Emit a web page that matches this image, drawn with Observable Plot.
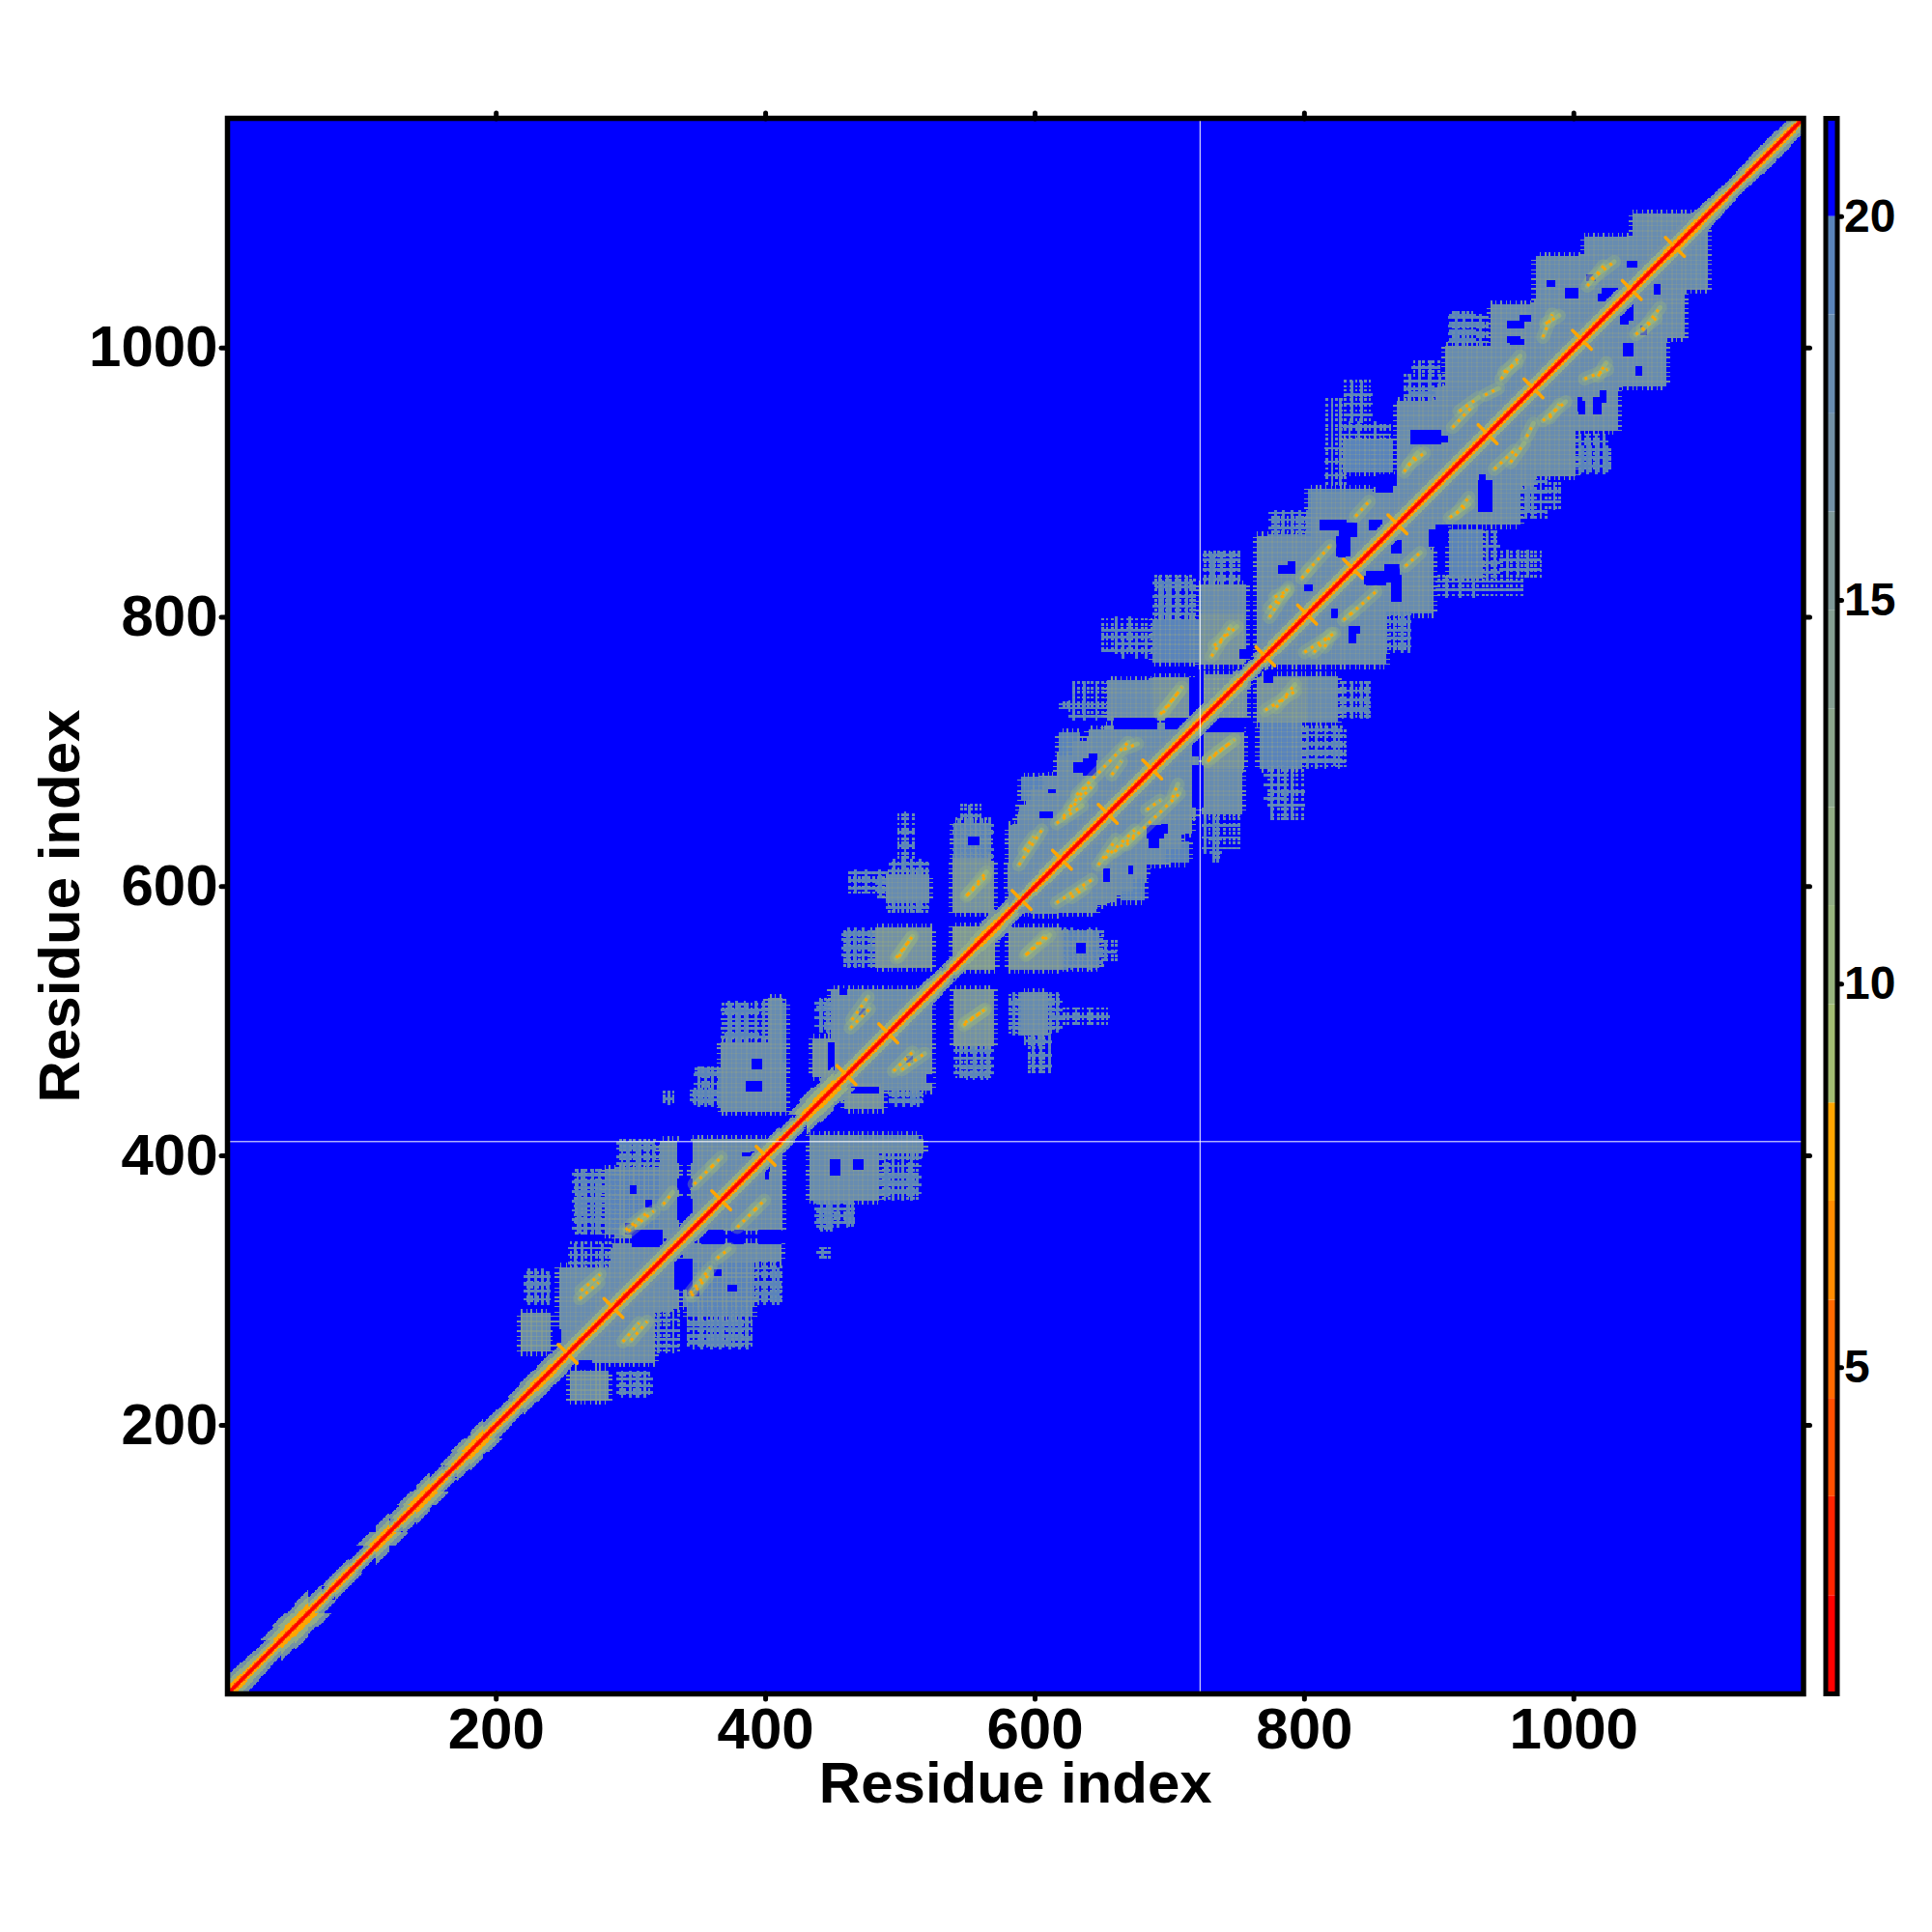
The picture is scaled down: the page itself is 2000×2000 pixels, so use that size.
<!DOCTYPE html>
<html>
<head>
<meta charset="utf-8">
<script src="https://cdn.jsdelivr.net/npm/d3@7"></script>
<script src="https://cdn.jsdelivr.net/npm/@observablehq/plot@0.6"></script>
<style>
html,body{margin:0;padding:0;background:#fff}
#wrap{display:flex;width:2000px;height:2000px}
</style>
</head>
<body>
<div id="wrap"></div>
<script>
// ---- axes and colour key ----
const residueCount = 1170;
const axisTicks = [200, 400, 600, 800, 1000];
const axisLabel = "Residue index";
const keyTicks = [5, 10, 15, 20];
const keyBreaks = [2.03,3.32,4.6,5.88,7.17,8.45,9.73,11.02,12.3,13.58,14.87,16.15,17.43,18.72,20];
const keyColors = ["#ff0000","#ff2400","#ff4f00","#ff6a00","#ff8c00","#ffa500","#a2bd73","#98b57e","#92ad85","#8ba68c","#859f92","#7e9898","#7391a6","#688cb0","#5a84bb","#0000ff"];
const keyEdges = [0.75,...keyBreaks,21.28];
const whiteColumn = [722.5];
const whiteRow = [410.6];

// ---- distance-map regions [x1,x2,y1,y2,value]; the map is symmetric, each is mirrored ----
const denseBlocks = [
[219,240,255,283,17.6],[247,317,250,317,18.4],[285,335,316,330,18.6],[322,335,287,325,18.6],
[339,391,289,330,18.8],[281,317,342,390,19.1],[322,335,340,411,18.6],[345,412,345,412,18.4],
[368,415,433,469,18.4],[403,415,469,513,19.1],[434,517,402,412,18.1],[434,484,367,402,18.6],
[450,523,449,521,18.2],[435,453,459,485,17.1],[459,487,435,457,18.1],[542,569,490,521,17.1],
[590,609,490,521,18.6],[482,523,540,569,17.4],[539,570,539,570,16.1],[581,620,539,567,17.4],
[620,647,540,565,18.8],[492,521,592,608,19.1],[539,569,581,619,17.4],
[654,721,700,714,18.6],[640,721,688,700,18.6],[628,721,676,688,18.4],[611,721,664,676,18.4],
[594,719,652,664,18.4],[587,716,640,652,18.4],[581,708,628,640,18.4],[581,696,617,628,18.4],
[580,682,607,617,18.4],[580,672,597,607,18.4],[582,660,589,597,18.4],[584,645,581,589,18.4],
[590,606,664,681,19.1],[618,633,693,714,19.1],
[654,721,724,753,18.4],[688,721,767,798,19.1],[724,757,726,755,16.6],[724,756,767,824,18.4],
[724,755,688,714,17.4],[724,752,655,688,19.1],[765,802,722,755,17.4],[802,824,722,755,19.1],
[769,798,688,717,19.1],
[769,860,765,858,18.6],[805,905,858,893,18.4],[829,865,908,932,19.1],[869,970,898,960,18.6],
[905,1020,960,1001,18.6],[939,1050,1001,1032,18.6],[972,1075,1032,1068,18.4],[1008,1085,1068,1082,18.4],
[1044,1090,1082,1099,18.1],[860,895,803,850,19.1],[908,931,829,850,19.1]
];

// ---- sparse regions: [x1,x2,y1,y2], then the rows and columns seen as stripes ----
const sparseBoxes = [
[221,238,290,316,[293,299,304,310],[224,229,234]],
[290,314,221,240,[224,229,234,238],[293,299,305,310]],
[257,281,342,390,[346,352,359,366,373,380,386],[260,265,271,276]],
[290,317,390,411,[394,399,405,409],[293,298,304,312]],
[343,372,258,290,[262,266,274,281,287],[346,351,356,362,368]],
[372,388,258,290,[263,283],[376,381,385]],
[391,410,293,333,[297,306,316,323,330],[394,399,406]],
[254,285,316,335,[320,326,331],[258,263,270,278]],
[344,367,438,450,[441,445,448],[347,352,358,364]],
[348,369,459,466,[461,464],[352,360]],
[324,332,438,447,[442],[328]],
[484,515,367,402,[372,378,384,392,398],[488,494,501,508]],
[437,465,347,367,[350,355,360,365],[441,447,453,460]],
[438,446,325,331,[328],[442]],
[492,515,437,454,[440,445,450],[496,502,508,513]],
[438,453,492,516,[496,502,510],[441,446,450]],
[370,395,470,513,[474,482,490,498,506],[374,380,386,392]],
[545,566,457,490,[460,465,472,478,484],[549,554,560,564]],
[581,590,490,521,[498,505,512],[584,588]],
[595,612,462,490,[466,474,484],[598,604,610]],
[613,655,498,510,[503],[630,640]],
[458,482,540,569,[544,549,555,560,565],[461,466,472,478]],
[647,660,545,560,[551],[652]],
[492,521,608,620,[611,616],[495,501,508,514]],
[492,521,581,592,[584,589],[495,501,508,514]],
[482,492,592,608,[597,602],[485]],
[539,569,619,650,[622,627,640,645],[543,549,553,560,566]],
[618,652,730,738,[732,735],[625,635,645]],
[690,719,798,827,[802,808,815,822],[694,700,706,712,716]],
[660,690,770,785,[775,780],[665,675,682]],
[728,750,824,846,[828,835,842],[732,738,745]],
[724,752,625,655,[628,636,645],[726,732]],
[824,848,725,752,[730,738,745],[828,835,842,846]],
[798,830,688,717,[692,698,705,712],[802,808,815,825]],
[775,800,650,688,[660,670],[775,785,790]],
[774,805,858,879,[860,866,872,877],[778,784,790,796,802]],
[874,905,960,980,[964,969,975],[878,885,892,900]],
[907,936,1001,1025,[1004,1010,1016,1022],[912,918,924,930]],
[829,864,932,945,[935,941],[833,840,852]],
[1003,1027,908,927,[912,918,924],[1006,1012,1018,1024]],
[945,975,830,850,[835,842],[950,958,965]],
[898,962,815,830,[820,826],[905,915,925]],
[960,990,880,900,[885,893],[966,975,985]]
];

// ---- blue holes inside the regions [x1,x2,y1,y2] ----
const holes = [
[853,868,898,906],[893,903,853,865],[860,870,829,839],[994,1003,1037,1044],[1021,1034,1039,1044],
[953,963,1003,1006],[1004,1008,951,960],[1015,1020,951,963],[812,831,865,872],[848,857,865,872],
[826,833,860,867],[886,894,936,938],[929,939,879,901],[833,841,788,793],[1035,1040,1018,1028],
[659,690,717,725],[697,721,717,725],[726,755,715,725],[846,860,824,834],[781,793,833,838],
[825,830,845,849],[683,695,636,645],[636,642,683,688],[551,558,631,637],[685,692,629,643],
[604,613,651,655],[464,484,447,451],[633,637,553,558],[335,345,377,383],[335,345,354,368],
[353,369,335,344],[375,381,335,343],[398,403,389,395],[333,345,301,323],[296,302,342,350],
[362,367,311,315],[262,271,242,248],[226,235,243,250],[448,455,386,397],[465,472,390,397],
[383,388,400,402],[335,345,395,411],[752,760,770,776],[800,806,820,824],[900,906,930,934],
[1010,1016,1050,1054],[1040,1047,1060,1064],[610,615,670,672],[640,646,694,698],[520,524,455,460],
[470,474,505,509],[300,305,300,304],[372,378,300,304],[960,968,1020,1024],[980,986,1046,1050]
];

// ---- band around the diagonal: half-width, in residues, per 10 residues of the chain ----
const diagOuter = [13,12,11,11,15,17,11,7,10,8,8,14,8,12,14,10,8,12,14,11,
10,9,12,13,12,11,12,12,11,12,12,11,11,11,11,12,12,11,11,11,
11,9,7,14,16,11,11,11,11,11,11,11,10,8,10,12,13,11,7,9,
10,11,11,11,11,11,11,11,11,11,11,11,11,11,11,8,7,10,11,11,
11,11,11,11,11,11,11,11,11,11,11,11,11,11,11,11,11,11,11,11,
11,11,11,11,11,11,11,12,12,11,10,9,9,10,11,10,9];
const diagMiddle = [9,8,7,7,10,12,7,5,7,5,5,9,5,8,10,7,5,8,10,7,
7,6,8,9,8,8,8,8,8,8,8,8,8,8,8,8,8,8,8,8,
8,6,5,10,11,8,8,8,8,8,8,8,7,5,7,8,9,8,5,6,
7,8,8,8,8,8,8,8,8,8,8,8,8,8,8,6,5,7,8,8,
8,8,8,8,8,8,8,8,8,8,8,8,8,8,8,8,8,8,8,8,
8,8,8,8,8,8,8,8,8,8,7,6,6,7,7,7,6];
const diagOrange = [5,4,4,4,6,7,4,3,4,3,3,5,3,4,6,4,3,4,6,4,
4,4,4,5,4,4,4,4,4,4,4,4,4,4,4,4,4,4,4,4,
4,3,3,5,6,4,4,4,4,4,4,4,4,3,4,4,5,4,3,3,
4,4,4,4,4,4,4,4,4,4,4,4,4,4,4,3,3,4,4,4,
4,4,4,4,4,4,4,4,4,4,4,4,4,4,4,4,4,4,4,4,
4,4,4,4,4,4,4,5,5,4,4,3,3,4,4,4,3];

// ---- the crosshatch: residues whose rows and columns show lighter ----
const meshResidues = [212,216,219,223,226,230,234,237,241,245,248,252,255,259,263,266,270,274,277,281,284,288,292,295,299,302,306,310,313,317,321,324,328,331,335,339,342,346,350,353,357,360,364,368,371,375,378,382,386,389,393,397,400,404,407,411,415,418,422,425,429,433,436,440,444,447,451,454,458,462,465,469,472,476,480,483,487,491,494,498,501,505,509,512,516,519,523,527,530,534,538,541,545,548,552,556,559,563,566,570,574,577,581,585,588,592,595,599,603,606,610,613,617,621,624,628,632,635,639,642,646,650,653,657,660,664,668,671,675,679,682,686,689,693,697,700,704,707,711,715,718,722,726,729,733,736,740,744,747,751,754,758,762,765,769,773,776,780,783,787,791,794,798,801,805,809,812,816,820,823,827,830,834,838,841,845,848,852,856,859,863,867,870,874,877,881,885,888,892,895,899,903,906,910,914,917,921,924,928,932,935,939,942,946,950,953,957,961,964,968,971,975,979,982,986,989,993,997,1000,1004,1008,1011,1015,1018,1022,1026,1029,1033,1036,1040,1044,1047,1051,1055,1058,1062,1065,1069,1073,1076,1080,1083,1087,1091,1094,1098,1102];

// ---- orange ridges parallel to the diagonal [x1,y1,x2,y2] ----
const ridges = [
[262,294,276,306],[298,344,317,359],[324,364,331,373],[360,392,367,399],[345,296,357,311],
[379,347,393,361],[300,263,312,277],[463,495,477,509],[501,464,518,476],[547,497,563,509],
[499,548,508,562],[594,550,611,564],[549,593,563,607],[616,588,642,605],[668,631,707,669],
[616,647,635,660],[592,627,599,637],[621,652,642,674],[657,683,664,693],[666,702,676,706],
[695,729,709,748],[659,626,676,640],[733,779,750,793],[728,693,745,707],[771,731,793,745],
[778,815,788,820],[800,774,822,788],[829,798,836,804],[802,834,819,853],[774,807,786,818],
[838,875,848,886],[877,913,889,922],[910,941,924,956],[934,965,944,970],[948,982,958,989],
[979,1018,989,1024],[1013,1051,1030,1064],[908,874,922,884],[977,946,994,960],[953,915,963,929],
[1008,977,1025,984],[1046,1010,1061,1022]
];

// ---- residues where an orange cross sits on the diagonal ----
const crossResidues = [253,287,367,400,460,491,590,620,654,687,771,802,836,869,936,970,1006,1043,1075];

// ---- build the map from the lists above ----
const grid = new Float32Array(residueCount * residueCount).fill(21);
const at = (x, y) => (Math.round(y) - 1) * residueCount + Math.round(x) - 1;
function paint(x1, x2, y1, y2, v) {
  for (let y = y1; y <= y2; ++y) for (let x = x1; x <= x2; ++x) {
    if (x < 1 || y < 1 || x > residueCount || y > residueCount) continue;
    const a = at(x, y), b = at(y, x);
    if (v < grid[a]) grid[a] = v;
    if (v < grid[b]) grid[b] = v;
  }
}
const meshSet = new Set(meshResidues);
for (const [x1, x2, y1, y2, v] of denseBlocks) {
  paint(x1, x2, y1, y2, v);
  // jagged rims: only the crosshatch rows and columns reach past a region's edge
  for (const m of meshResidues) {
    if (m >= y1 && m <= y2) { paint(x1 - 3, x1, m, m, 19); paint(x2, x2 + 3, m, m, 19); }
    if (m >= x1 && m <= x2) { paint(m, m, y1 - 3, y1, 19); paint(m, m, y2, y2 + 3, 19); }
  }
}
// crosshatch is lighter than the blocks around it
const shaded = grid.slice();
for (let y = 1; y <= residueCount; ++y) for (let x = 1; x <= residueCount; ++x) {
  const i = at(x, y);
  if (shaded[i] < 20) {
    const hits = (meshSet.has(x) ? 1 : 0) + (meshSet.has(y) ? 1 : 0);
    grid[i] = shaded[i] - 1.6 * hits;
  }
}
for (const [x1, x2, y1, y2, rows, cols] of sparseBoxes) {
  for (const r of rows) paint(x1, x2, r, r + 1, 19);
  for (const c of cols) paint(c, c + 1, y1, y2, 19);
  for (const r of meshResidues) if (r >= y1 && r <= y2)
    for (const c of meshResidues) if (c >= x1 && c <= x2) paint(c, c + 1, r, r + 1, 18.5);
}
for (const [x1, x2, y1, y2] of holes)
  for (let y = y1; y <= y2; ++y) for (let x = x1; x <= x2; ++x) { grid[at(x, y)] = 21; grid[at(y, x)] = 21; }
diagOuter.forEach((w, k) => {
  for (let r = k * 10 + 1; r <= Math.min(k * 10 + 10, residueCount); ++r) {
    paint(r - w, r + w, r, r, 17);
    paint(r - diagMiddle[k], r + diagMiddle[k], r, r, 12);
    paint(r - diagOrange[k], r + diagOrange[k], r, r, 8);
    paint(r - 2, r + 2, r, r, 4.5);
  }
});

const ridgeLinks = ridges.flatMap(([a, b, c, d]) => [{a, b, c, d}, {a: b, b: a, c: d, d: c}]);
const crossLinks = crossResidues.map(r => ({a: r - 7, b: r + 7, c: r + 7, d: r - 7}));

const colorOpts = {type: "threshold", domain: keyBreaks, range: keyColors};
const bold = {fontSize: 60, fontWeight: "bold"};
const tickStyle = {tickSize: 6, strokeWidth: 5, strokeLinecap: "round"};
const link = {x1: "a", y1: "b", x2: "c", y2: "d"};

const main = Plot.plot({
  width: 1878, height: 2000,
  marginLeft: 235, marginRight: 11.5, marginTop: 122, marginBottom: 247,
  style: {fontFamily: "'Liberation Sans', Arial, sans-serif", background: "#fff"},
  x: {domain: [0.5, residueCount + 0.5]},
  y: {domain: [0.5, residueCount + 0.5]},
  color: colorOpts,
  marks: [
    Plot.raster(grid, {width: residueCount, height: residueCount, x1: 0.5, y1: 0.5, x2: residueCount + 0.5, y2: residueCount + 0.5, imageRendering: "pixelated"}),
    Plot.link(ridgeLinks, {...link, stroke: () => 11, strokeOpacity: 0.35, strokeWidth: 14, strokeLinecap: "round"}),
    Plot.link(ridgeLinks, {...link, stroke: () => 9, strokeOpacity: 0.55, strokeWidth: 5, strokeLinecap: "round"}),
    Plot.link(ridgeLinks, {...link, stroke: () => 8, strokeWidth: 3, strokeDasharray: "3 5"}),
    Plot.link(crossLinks, {...link, stroke: () => 8, strokeWidth: 3.5, strokeLinecap: "round"}),
    Plot.link([{a: 1, b: 1, c: residueCount, d: residueCount}], {...link, stroke: () => 1.5, strokeWidth: 3.2}),
    Plot.ruleX(whiteColumn, {stroke: "white", strokeWidth: 1}),
    Plot.ruleY(whiteRow, {stroke: "white", strokeWidth: 1}),
    Plot.frame({stroke: "black", strokeWidth: 5.5}),
    Plot.axisX({anchor: "bottom", ticks: axisTicks, tickFormat: "d", ...tickStyle, ...bold, tickPadding: 8, label: axisLabel, labelAnchor: "center", labelArrow: "none", labelOffset: 112}),
    Plot.axisY({anchor: "left", ticks: axisTicks, tickFormat: "d", ...tickStyle, ...bold, tickPadding: 4, label: axisLabel, labelAnchor: "center", labelArrow: "none", labelOffset: 196}),
    Plot.axisX({anchor: "top", ticks: axisTicks, ...tickStyle, text: null, label: null}),
    Plot.axisY({anchor: "right", ticks: axisTicks, ...tickStyle, text: null, label: null})
  ]
});

const keyBins = keyColors.map((c, i) => ({lo: keyEdges[i], hi: keyEdges[i + 1]}));
const key = Plot.plot({
  width: 122, height: 2000,
  marginLeft: 11.5, marginRight: 98.5, marginTop: 122, marginBottom: 247,
  style: {fontFamily: "'Liberation Sans', Arial, sans-serif", background: "#fff"},
  y: {domain: [0.75, 21.28]},
  color: colorOpts,
  marks: [
    Plot.rect(keyBins, {y1: "lo", y2: "hi", fill: d => (d.lo + d.hi) / 2}),
    Plot.frame({stroke: "black", strokeWidth: 5}),
    Plot.axisY({anchor: "right", ticks: keyTicks, tickSize: 4, strokeWidth: 5, strokeLinecap: "round", tickPadding: 3, fontSize: 48, fontWeight: "bold", label: null})
  ]
});
document.getElementById("wrap").append(main, key);
</script>
</body>
</html>
